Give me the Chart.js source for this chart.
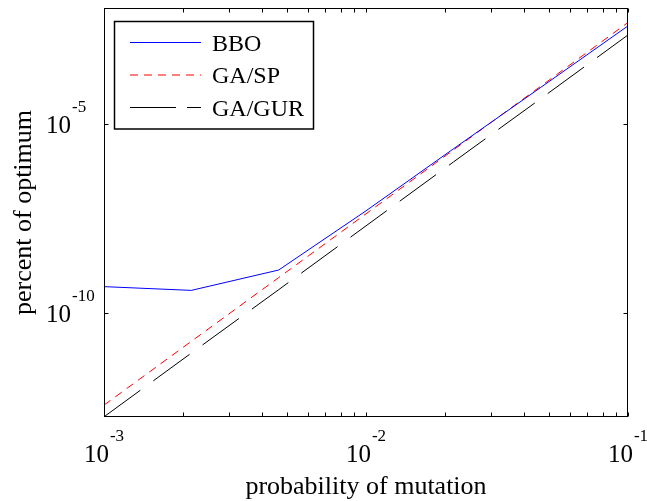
<!DOCTYPE html>
<html>
<head>
<meta charset="utf-8">
<script src="https://cdn.jsdelivr.net/npm/chart.js@4.4.1/dist/chart.umd.min.js"></script>
<style>
  html, body { margin: 0; padding: 0; background: #fff; }
  #wrap { width: 647px; height: 501px; }
</style>
</head>
<body>
<div id="wrap"><canvas id="c" width="647" height="501"></canvas></div>
<script>
// ---- data ----
const mutationProb = [1e-3, 2.154e-3, 4.642e-3, 1e-2, 2.154e-2, 4.642e-2, 1e-1];
const bboValues    = [4.9e-10, 3.9e-10, 1.35e-9, 5.0e-8, 2.19e-6, 9.3e-5, 3.98e-3];
const gaSpValues   = [3.55e-13, 1.74e-11, 8.5e-10, 4.17e-8, 2.04e-6, 1.0e-4, 4.9e-3];
const gaGurValues  = [1.74e-13, 8.5e-12, 4.07e-10, 2.0e-8, 9.8e-7, 4.68e-5, 2.29e-3];
const seriesLabels = ['BBO', 'GA/SP', 'GA/GUR'];

const xTickValues = [1e-3, 1e-2, 1e-1];
const xTickExponents = ['-3', '-2', '-1'];
const yTickValues = [1e-5, 1e-10];
const yTickExponents = ['-5', '-10'];
const xTitle = 'probability of mutation';
const yTitle = 'percent of optimum';

const xMin = 1e-3, xMax = 1e-1;
const yMin = 1.72e-13, yMax = 1.186e-2;

const FONT = '"Liberation Serif", "Times New Roman", serif';

function pts(vals) { return mutationProb.map((x, i) => ({x: x, y: vals[i]})); }

const styles = [
  {color: '#0000ff', dash: []},
  {color: '#ff0000', dash: [8, 6]},
  {color: '#000000', dash: [45, 16]}
];

const framePlugin = {
  id: 'frame',
  afterDraw(chart) {
    const ctx = chart.ctx;
    const a = chart.chartArea;
    const xs = chart.scales.x, ys = chart.scales.y;
    const L = Math.round(a.left) + 0.5, R = Math.round(a.right) - 0.5;
    const T = Math.round(a.top) + 0.5, B = Math.round(a.bottom) - 0.5;
    ctx.save();
    ctx.strokeStyle = '#000';
    ctx.lineWidth = 1;
    ctx.setLineDash([]);
    ctx.strokeRect(L, T, R - L, B - T);

    // x ticks (major + minor), inward, bottom and top
    const tl = 4;
    ctx.beginPath();
    const lx0 = Math.log10(xMin), lx1 = Math.log10(xMax);
    for (let d = Math.floor(lx0); d <= Math.ceil(lx1); d++) {
      for (let m = 1; m <= 9; m++) {
        const v = m * Math.pow(10, d);
        if (v < xMin * 0.999 || v > xMax * 1.001) continue;
        const px = Math.round(xs.getPixelForValue(v)) + 0.5;
        ctx.moveTo(px, B); ctx.lineTo(px, B - tl);
        ctx.moveTo(px, T); ctx.lineTo(px, T + tl);
      }
    }
    // y ticks (major only), inward, left and right
    yTickValues.forEach(v => {
      const py = Math.round(ys.getPixelForValue(v)) + 0.5;
      ctx.moveTo(L, py); ctx.lineTo(L + tl, py);
      ctx.moveTo(R, py); ctx.lineTo(R - tl, py);
    });
    ctx.stroke();

    // tick labels
    ctx.fillStyle = '#000';
    ctx.textBaseline = 'alphabetic';
    const bigF = '25px ' + FONT, expF = '17px ' + FONT;
    xTickValues.forEach((v, i) => {
      const px = xs.getPixelForValue(v);
      ctx.font = bigF; const w1 = ctx.measureText('10').width;
      ctx.font = expF; const w2 = ctx.measureText(xTickExponents[i]).width;
      const x0 = px - (w1 + w2 + 1) / 2;
      ctx.font = bigF; ctx.textAlign = 'left';
      ctx.fillText('10', x0, 462);
      ctx.font = expF;
      ctx.fillText(xTickExponents[i], x0 + w1 + 1, 441);
    });
    yTickValues.forEach((v, i) => {
      const py = ys.getPixelForValue(v);
      ctx.font = bigF; ctx.textAlign = 'right';
      ctx.fillText('10', 71, py + 9);
      ctx.font = expF; ctx.textAlign = 'left';
      ctx.fillText(yTickExponents[i], 72, py - 12);
    });

    // axis titles
    ctx.font = '26px ' + FONT;
    ctx.textAlign = 'center';
    ctx.fillText(xTitle, (a.left + a.right) / 2, 494);
    ctx.save();
    ctx.translate(31, (a.top + a.bottom) / 2);
    ctx.rotate(-Math.PI / 2);
    ctx.fillText(yTitle, 0, 0);
    ctx.restore();

    // legend
    ctx.fillStyle = '#fff';
    ctx.fillRect(114.5, 21.5, 199, 107.5);
    ctx.strokeStyle = '#000';
    ctx.lineWidth = 1.5;
    ctx.strokeRect(114.5, 21.5, 199, 107.5);
    const rows = [42.5, 75, 107.5];
    chart.data.datasets.forEach((ds, i) => {
      const y = rows[i];
      ctx.strokeStyle = ds.borderColor;
      ctx.lineWidth = 1;
      ctx.setLineDash(i === 2 ? [46, 11] : (ds.borderDash || []));
      ctx.beginPath();
      ctx.moveTo(130, y); ctx.lineTo(201, y);
      ctx.stroke();
      ctx.setLineDash([]);
      ctx.fillStyle = '#000';
      ctx.font = '24px ' + FONT;
      ctx.textAlign = 'left';
      ctx.fillText(ds.label, 212, y + 8);
    });
    ctx.restore();
  }
};

new Chart(document.getElementById('c'), {
  type: 'line',
  data: {
    datasets: [bboValues, gaSpValues, gaGurValues].map((vals, i) => ({
      label: seriesLabels[i],
      data: pts(vals),
      borderColor: styles[i].color,
      borderDash: styles[i].dash,
      borderWidth: 1,
      pointRadius: 0,
      tension: 0,
      fill: false
    }))
  },
  options: {
    responsive: false,
    animation: false,
    devicePixelRatio: 1,
    layout: { padding: { left: 104, right: 19, top: 8, bottom: 84 } },
    plugins: { legend: { display: false }, tooltip: { enabled: false } },
    scales: {
      x: { type: 'logarithmic', min: xMin, max: xMax, display: false },
      y: { type: 'logarithmic', min: yMin, max: yMax, display: false }
    }
  },
  plugins: [framePlugin]
});
</script>
</body>
</html>
